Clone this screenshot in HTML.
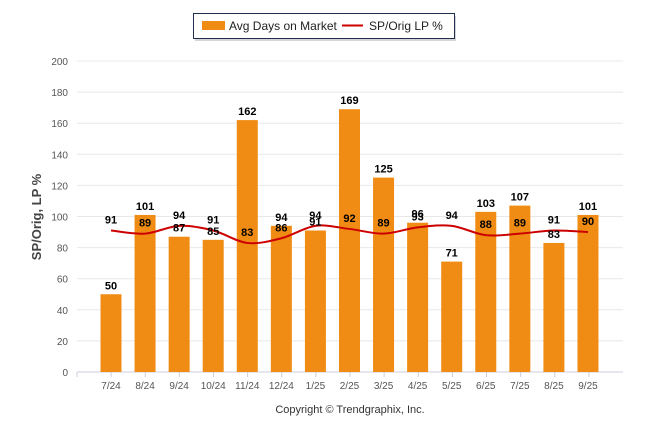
<!DOCTYPE html>
<html><head><meta charset="utf-8"><style>
body{margin:0;background:#fff;}
svg{display:block;font-family:"Liberation Sans",Arial,sans-serif;}
</style></head><body>
<svg id="chart" width="646" height="434">
<g>
<rect x="195" y="16" width="261" height="25" fill="#bbb" opacity="0.6"/>
<rect x="193.5" y="13.5" width="261" height="25" fill="#fff" stroke="#1f2d4f" stroke-width="1"/>
<rect x="202" y="21" width="23" height="9" fill="#f08c14"/>
<text x="229" y="30" font-size="12" fill="#222">Avg Days on Market</text>
<line x1="342" y1="25.5" x2="363" y2="25.5" stroke="#cc0000" stroke-width="2"/>
<text x="369" y="30" font-size="12" fill="#222">SP/Orig LP %</text>
</g>
<text transform="translate(41,217) rotate(-90)" text-anchor="middle" font-size="13" font-weight="bold" fill="#444">SP/Orig, LP %</text>
<text x="350" y="413" text-anchor="middle" font-size="11" fill="#333">Copyright © Trendgraphix, Inc.</text>
<g id="grid"></g><g id="bars"></g><g id="line"></g><g id="labels"></g>
</svg>
<script>
const categories=["7/24","8/24","9/24","10/24","11/24","12/24","1/25","2/25","3/25","4/25","5/25","6/25","7/25","8/25","9/25"];
const daysOnMarket=[50,101,87,85,162,94,91,169,125,96,71,103,107,83,101];
const spOrigLp=[91,89,94,91,83,86,94,92,89,93,94,88,89,91,90];
const yTicks=[0,20,40,60,80,100,120,140,160,180,200];
const NS="http://www.w3.org/2000/svg";
const y=v=>372-v*1.555;
const x=i=>111+i*34.07;
function mk(tag,attrs,parent,text){const e=document.createElementNS(NS,tag);for(const k in attrs)e.setAttribute(k,attrs[k]);if(text!==undefined)e.textContent=text;document.getElementById(parent).appendChild(e);return e;}
yTicks.forEach(t=>{
 const g=mk('line',{x1:77,x2:623,y1:y(t),y2:y(t),stroke:t===0?'#ccd':'#e8e8e8','stroke-width':1},'grid');
 
 
 const l=mk('text',{x:68,y:y(t)+4,'text-anchor':'end','font-size':10,fill:'#555'},'grid',t);
 
 
});
for(let i=0;i<=categories.length;i++){
 const tk=mk('line',{x1:77+i*(546/16)+0,x2:77+i*(546/16),y1:372,y2:377,stroke:'#ccd'},'grid');
 
 
}
categories.forEach((c,i)=>{
 const t=mk('text',{x:x(i),y:389,'text-anchor':'middle','font-size':10,fill:'#555'},'grid',c);
 
 
 const b=mk('rect',{x:x(i)-10.5,y:y(daysOnMarket[i]),width:21,height:372-y(daysOnMarket[i]),fill:'#f08c14'},'bars');
 
 
 const bl=mk('text',{x:x(i),y:y(daysOnMarket[i])-5,'text-anchor':'middle','font-size':11,'font-weight':'bold',fill:'#000'},'labels',daysOnMarket[i]);
 
 
 const ll=mk('text',{x:x(i),y:y(spOrigLp[i])-7,'text-anchor':'middle','font-size':11,'font-weight':'bold',fill:'#000'},'labels',spOrigLp[i]);
 
 
});
const pts=spOrigLp.map((v,i)=>[x(i),y(v)]);
let d='M'+pts[0][0]+','+pts[0][1];
for(let i=0;i<pts.length-1;i++){
 const p0=pts[Math.max(0,i-1)],p1=pts[i],p2=pts[i+1],p3=pts[Math.min(pts.length-1,i+2)];
 const c1=[p1[0]+(p2[0]-p0[0])/6,p1[1]+(p2[1]-p0[1])/6];
 const c2=[p2[0]-(p3[0]-p1[0])/6,p2[1]-(p3[1]-p1[1])/6];
 d+=' C'+c1+' '+c2+' '+p2;
}
const path=mk('path',{d:d,fill:'none',stroke:'#cc0000','stroke-width':2},'line');


</script>
</body></html>
